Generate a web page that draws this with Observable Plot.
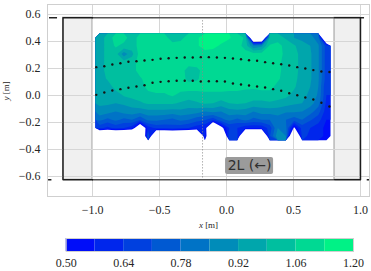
<!DOCTYPE html>
<html><head><meta charset="utf-8">
<script src="https://cdn.jsdelivr.net/npm/d3@7"></script>
<script src="https://cdn.jsdelivr.net/npm/@observablehq/plot@0.6"></script>
<style>
body{margin:0;background:#fff;}
#chart{width:371px;height:271px;overflow:hidden;}
svg{display:block;}
#chart svg text{font-family:"Liberation Serif",serif;}
#chart svg text.sans{font-family:"DejaVu Sans",sans-serif;}
</style></head><body><div id="chart"></div>
<script>
// ---- data ----
const xTicks = [-1.0, -0.5, 0.0, 0.5, 1.0];
const yTicks = [-0.6, -0.4, -0.2, 0.0, 0.2, 0.4, 0.6];
const levels = [0.50, 0.57, 0.64, 0.71, 0.78, 0.85, 0.92, 0.99, 1.06, 1.13, 1.20];
const bandColors = ["#000df9", "#0026ec", "#0040df", "#0059d2", "#0073c6", "#008cb9", "#00a6ac", "#00bf9f", "#00d993", "#00f286"];
const cbTicks = [0.50, 0.64, 0.78, 0.92, 1.06, 1.20];

// measured field (rows top -> bottom), extent below
const fieldX = [-0.978, 0.776];
const fieldY = [0.459, -0.331];
const field = [
 [0.95,1.02,1.09,1.09,1.02,1.09,1.09,1.12,1.09,1.02,1.04,1.09,1.12,1.16,1.17,1.16,1.14,1.09,1.05,0.10,0.10,1.00,1.02,0.98,0.92,0.90,0.88,0.81,0.10],
 [0.95,1.02,1.07,1.04,1.02,1.09,1.09,1.09,1.09,1.09,1.09,1.09,1.12,1.16,1.15,1.12,1.09,1.09,1.03,0.85,0.90,1.07,1.09,1.03,1.00,0.95,0.92,0.86,0.67],
 [0.95,1.02,1.02,0.88,0.97,1.09,1.09,1.09,1.09,1.09,1.09,1.09,1.09,1.10,1.10,1.09,1.09,1.09,1.09,1.09,1.09,1.09,1.09,1.04,1.02,0.96,0.93,0.86,0.67],
 [0.95,1.02,1.02,1.02,1.03,1.09,1.09,1.09,1.09,1.09,1.09,1.09,1.09,1.09,1.09,1.09,1.09,1.10,1.10,1.09,1.09,1.09,1.08,1.03,1.02,0.96,0.93,0.86,0.67],
 [0.95,1.02,1.02,1.02,1.03,1.09,1.09,1.09,1.09,1.09,1.09,1.03,1.04,1.09,1.09,1.09,1.10,1.12,1.12,1.10,1.09,1.09,1.08,1.03,1.02,0.96,0.93,0.86,0.67],
 [0.95,1.00,1.02,1.02,1.02,1.05,1.09,1.09,1.09,1.09,1.09,1.04,1.05,1.09,1.09,1.09,1.10,1.10,1.10,1.09,1.09,1.09,1.07,1.03,1.01,0.96,0.93,0.86,0.67],
 [0.95,0.95,1.02,1.02,1.02,1.03,1.08,1.09,1.09,1.09,1.09,1.09,1.09,1.09,1.09,1.09,1.08,1.08,1.07,1.07,1.08,1.08,1.04,1.02,1.00,0.95,0.92,0.85,0.64],
 [0.95,0.95,0.95,1.00,1.02,1.02,1.04,1.05,1.05,1.07,1.04,1.03,1.03,1.04,1.04,1.04,1.04,1.04,1.04,1.03,1.03,1.03,1.02,1.01,0.97,0.95,0.90,0.84,0.64],
 [0.93,0.93,0.92,0.93,0.95,0.98,1.00,1.00,1.00,1.00,0.98,0.96,0.98,1.00,0.99,0.96,0.99,1.00,0.99,0.97,0.97,0.98,0.97,0.95,0.93,0.92,0.88,0.81,0.62],
 [0.90,0.88,0.85,0.88,0.89,0.88,0.90,0.90,0.90,0.89,0.90,0.89,0.88,0.85,0.87,0.85,0.89,0.90,0.89,0.85,0.88,0.88,0.88,0.86,0.86,0.85,0.81,0.74,0.60],
 [0.80,0.76,0.80,0.76,0.78,0.72,0.80,0.80,0.78,0.76,0.80,0.78,0.74,0.72,0.66,0.76,0.80,0.76,0.80,0.76,0.78,0.78,0.82,0.78,0.74,0.78,0.72,0.67,0.57],
 [0.66,0.62,0.66,0.64,0.60,0.30,0.60,0.66,0.66,0.68,0.66,0.64,0.60,0.58,0.10,0.45,0.64,0.64,0.58,0.58,0.58,0.67,0.85,0.80,0.48,0.67,0.64,0.60,0.55],
 [0.10,0.10,0.10,0.10,0.10,0.10,0.74,0.10,0.10,0.10,0.10,0.10,0.10,0.60,0.10,0.10,0.70,0.66,0.10,0.10,0.10,0.70,0.90,0.85,0.10,0.67,0.62,0.60,0.55]
];

// probe positions (two arcs)
const arcX = [-0.972,-0.912,-0.852,-0.792,-0.732,-0.672,-0.612,-0.552,-0.492,-0.432,-0.372,-0.312,-0.252,-0.192,-0.132,-0.072,-0.012,0.048,0.108,0.168,0.228,0.288,0.348,0.408,0.468,0.528,0.588,0.648,0.708,0.768];
const upperArcY = [0.210,0.217,0.230,0.239,0.250,0.254,0.259,0.264,0.272,0.276,0.279,0.281,0.281,0.284,0.284,0.281,0.279,0.274,0.269,0.261,0.257,0.247,0.239,0.232,0.222,0.210,0.200,0.188,0.178,0.174];
const lowerArcY = [0.005,0.022,0.037,0.047,0.057,0.067,0.076,0.094,0.101,0.106,0.109,0.109,0.109,0.104,0.106,0.106,0.104,0.089,0.081,0.074,0.067,0.059,0.047,0.035,0.017,0.002,-0.015,-0.030,-0.054,-0.081];

// geometry
const boxes = [{x1: -1.22, x2: -1.0, y1: -0.624, y2: 0.576}, {x1: 0.806, x2: 1.0, y1: -0.624, y2: 0.576}];
const walls = [{x1: -1.0, x2: 0.806, y: 0.576}, {x1: -1.0, x2: 0.806, y: -0.624}];
const wallEnds = [{x1: -1.321, x2: -1.261, y: 0.576}, {x1: -1.328, x2: -1.303, y: -0.624}, {x1: 1.0, x2: 1.03, y: 0.576}, {x1: 1.05, x2: 1.067, y: -0.624}];
const leftOutline = [[-1.0, 0.576], [-1.22, 0.576], [-1.22, -0.624], [-1.0, -0.624]];
const rightOutline = [[0.806, 0.576], [1.0, 0.576], [1.0, -0.624], [0.806, -0.624]];
const probeLine = [{x: -0.179, y1: -0.61, y2: 0.555}];
const tag = [{x: 0.172, y: -0.522, text: "2L (\u2190)"}];
const xLabel = "x [m]", yLabel = "y [m]";

// ---- build ----
const nx = field[0].length, ny = field.length;
const values = field.flat();
const upperPts = arcX.map((x, i) => ({x, y: upperArcY[i]}));
const lowerPts = arcX.map((x, i) => ({x, y: lowerArcY[i]}));

const main = Plot.plot({
  width: 371, height: 232,
  marginLeft: 47, marginRight: 2, marginTop: 4, marginBottom: 36,
  style: {fontFamily: "Liberation Serif", fontSize: "12px", color: "#262626", background: "#fff"},
  x: {domain: [-1.336, 1.067], ticks: xTicks, tickFormat: d3.format(".1f"), tickSize: 0, tickPadding: 9, label: null},
  y: {domain: [-0.748, 0.674], ticks: yTicks, tickFormat: d3.format(".1f"), tickSize: 0, tickPadding: 7, label: null},
  color: {type: "threshold", domain: levels.slice(1, -1), range: bandColors},
  marks: [
    Plot.rect(boxes, {x1: "x1", x2: "x2", y1: "y1", y2: "y2", fill: "#f0f0f0", stroke: "#9a9a9a", strokeWidth: 1}),
    Plot.ruleX(xTicks, {stroke: "#d6d6d6", strokeWidth: 1}),
    Plot.ruleY(yTicks, {stroke: "#d6d6d6", strokeWidth: 1}),
    Plot.frame({stroke: "#cfcfcf", strokeWidth: 1}),
    Plot.contour(values, {width: nx, height: ny, x1: fieldX[0], x2: fieldX[1], y1: fieldY[0], y2: fieldY[1],
      value: Plot.identity, fill: "value", thresholds: levels.slice(0, -1), stroke: "none"}),
    Plot.ruleY(walls, {y: "y", x1: "x1", x2: "x2", stroke: "#555", strokeWidth: 1.5}),
    Plot.ruleY(wallEnds, {y: "y", x1: "x1", x2: "x2", stroke: "#222", strokeWidth: 1.5}),
    Plot.line(leftOutline, {x: d => d[0], y: d => d[1], stroke: "#1c1c1c", strokeWidth: 1.4}),
    Plot.line(rightOutline, {x: d => d[0], y: d => d[1], stroke: "#1c1c1c", strokeWidth: 1.4}),
    Plot.ruleX(probeLine, {x: "x", y1: "y1", y2: "y2", stroke: "#8a8a8a", strokeWidth: 1, strokeDasharray: "1,2"}),
    Plot.dot(upperPts, {x: "x", y: "y", r: 1.2, fill: "#151515", stroke: "none"}),
    Plot.dot(lowerPts, {x: "x", y: "y", r: 1.2, fill: "#151515", stroke: "none"}),
    Plot.rect(tag, {x1: "x", x2: "x", y1: "y", y2: "y", insetLeft: -24, insetRight: -24, insetTop: -8.5, insetBottom: -8.5, fill: "#9b9b9b", rx: 2}),
    Plot.text(tag, {x: "x", y: "y", text: "text", fontFamily: "DejaVu Sans", fontSize: 14, fill: "#303030"}),
    Plot.text([xLabel], {frameAnchor: "bottom", dy: 29, lineAnchor: "middle", fontSize: 9, fill: "#262626"}),
    Plot.text([yLabel], {frameAnchor: "left", dx: -41, rotate: -90, lineAnchor: "middle", fontSize: 9, fill: "#262626"})
  ]
});

const bands = bandColors.map((c, i) => ({lo: levels[i], hi: levels[i + 1], c}));
const cbar = Plot.plot({
  width: 371, height: 39,
  marginLeft: 65.7, marginRight: 18, marginTop: 6, marginBottom: 20,
  style: {fontFamily: "Liberation Serif", fontSize: "12px", color: "#262626", background: "#fff"},
  x: {domain: [levels[0], levels[levels.length - 1]], ticks: cbTicks, tickFormat: d3.format(".2f"), tickSize: 0, tickPadding: 7, label: null},
  marks: [
    Plot.rect(bands, {x1: "lo", x2: "hi", fill: "c"}),
    Plot.frame({stroke: "#cfcfcf", strokeWidth: 1})
  ]
});

const root = document.getElementById("chart");
root.appendChild(main);
root.appendChild(cbar);

main.querySelectorAll("text").forEach(t => {
  const s = t.textContent;
  if (s === tag[0].text) t.classList.add("sans");
  if (s === xLabel || s === yLabel) {
    const v = s[0];
    t.textContent = "";
    const a = document.createElementNS("http://www.w3.org/2000/svg", "tspan");
    a.setAttribute("font-style", "italic");
    a.textContent = v;
    const b = document.createElementNS("http://www.w3.org/2000/svg", "tspan");
    b.textContent = s.slice(1);
    t.appendChild(a); t.appendChild(b);
  }
});
</script></body></html>
